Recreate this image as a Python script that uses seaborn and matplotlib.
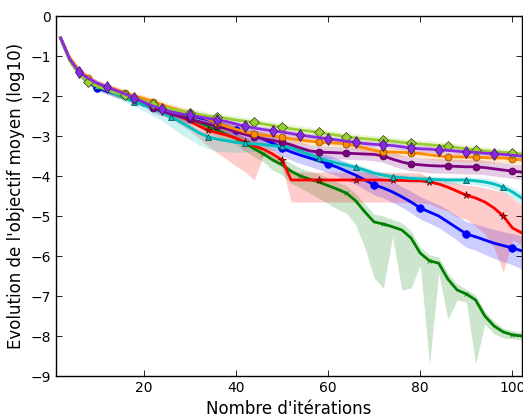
import numpy as np
import matplotlib
matplotlib.use("Agg")
import matplotlib.pyplot as plt
import seaborn as sns

# Iteration grid (every 2 iterations)
X = list(range(2, 103, 2))

# Mean objective (log10) per series
blue_m = [-0.55,-1.10,-1.43,-1.65,-1.80,-1.88,-1.94,-2.00,-2.07,-2.14,-2.22,-2.30,-2.37,-2.43,-2.48,-2.54,-2.60,-2.68,-2.76,-2.85,
          -2.92,-3.00,-3.08,-3.18,-3.30,-3.40,-3.48,-3.55,-3.62,-3.70,-3.78,-3.88,-3.98,-4.10,-4.22,-4.30,-4.40,-4.52,-4.65,-4.80,
          -4.90,-5.00,-5.15,-5.30,-5.45,-5.52,-5.60,-5.68,-5.74,-5.80,-5.87]
green_m = [-0.55,-1.10,-1.42,-1.62,-1.75,-1.84,-1.92,-2.00,-2.08,-2.16,-2.24,-2.32,-2.40,-2.48,-2.56,-2.66,-2.76,-2.86,-2.96,-3.06,
           -3.18,-3.32,-3.45,-3.60,-3.72,-3.88,-4.00,-4.08,-4.15,-4.24,-4.33,-4.43,-4.62,-4.90,-5.15,-5.20,-5.27,-5.35,-5.55,-5.93,
           -6.12,-6.18,-6.58,-6.85,-6.95,-7.10,-7.50,-7.75,-7.90,-7.97,-8.00]
red_m = [-0.55,-1.10,-1.42,-1.62,-1.75,-1.84,-1.92,-2.00,-2.08,-2.16,-2.25,-2.33,-2.42,-2.52,-2.62,-2.75,-2.86,-2.92,-2.98,-3.05,
         -3.15,-3.25,-3.33,-3.45,-3.60,-4.10,-4.10,-4.10,-4.10,-4.10,-4.10,-4.10,-4.10,-4.10,-4.10,-4.10,-4.11,-4.11,-4.12,-4.12,
         -4.15,-4.20,-4.28,-4.38,-4.48,-4.55,-4.65,-4.80,-5.00,-5.30,-5.42]
cyan_m = [-0.55,-1.10,-1.42,-1.64,-1.76,-1.85,-1.95,-2.05,-2.15,-2.22,-2.32,-2.42,-2.53,-2.65,-2.78,-2.92,-3.02,-3.08,-3.12,-3.16,
          -3.18,-3.20,-3.22,-3.24,-3.26,-3.30,-3.38,-3.47,-3.55,-3.62,-3.68,-3.73,-3.78,-3.85,-3.93,-3.98,-4.02,-4.04,-4.06,-4.07,
          -4.08,-4.09,-4.10,-4.10,-4.10,-4.12,-4.15,-4.20,-4.28,-4.40,-4.55]
purple_m = [-0.55,-1.10,-1.42,-1.62,-1.74,-1.82,-1.90,-1.98,-2.06,-2.14,-2.30,-2.38,-2.45,-2.52,-2.58,-2.64,-2.70,-2.76,-2.82,-2.90,
            -2.96,-3.02,-3.07,-3.11,-3.16,-3.22,-3.30,-3.37,-3.40,-3.41,-3.42,-3.43,-3.44,-3.45,-3.46,-3.50,-3.58,-3.65,-3.70,-3.72,
            -3.74,-3.75,-3.75,-3.76,-3.77,-3.77,-3.79,-3.82,-3.85,-3.88,-3.90]
orange_m = [-0.55,-1.05,-1.35,-1.55,-1.68,-1.76,-1.84,-1.92,-2.00,-2.06,-2.14,-2.22,-2.30,-2.37,-2.43,-2.50,-2.58,-2.68,-2.76,-2.83,
            -2.90,-2.95,-2.98,-3.00,-3.03,-3.07,-3.10,-3.13,-3.15,-3.17,-3.18,-3.20,-3.25,-3.30,-3.36,-3.40,-3.40,-3.41,-3.42,-3.44,
            -3.47,-3.50,-3.52,-3.52,-3.53,-3.53,-3.54,-3.55,-3.55,-3.57,-3.60]
yg_m = [-0.55,-1.12,-1.45,-1.65,-1.76,-1.84,-1.92,-1.98,-2.05,-2.12,-2.20,-2.27,-2.33,-2.38,-2.42,-2.46,-2.50,-2.53,-2.56,-2.60,
        -2.63,-2.66,-2.70,-2.74,-2.78,-2.82,-2.85,-2.88,-2.91,-2.95,-2.98,-3.02,-3.05,-3.07,-3.09,-3.11,-3.13,-3.16,-3.18,-3.20,
        -3.22,-3.24,-3.26,-3.29,-3.32,-3.35,-3.37,-3.39,-3.41,-3.43,-3.45]
bv_m = [-0.55,-1.08,-1.40,-1.56,-1.68,-1.78,-1.86,-1.95,-2.05,-2.15,-2.25,-2.33,-2.40,-2.45,-2.48,-2.52,-2.56,-2.60,-2.64,-2.70,
        -2.76,-2.80,-2.84,-2.87,-2.90,-2.94,-2.98,-3.01,-3.04,-3.07,-3.10,-3.13,-3.16,-3.19,-3.21,-3.22,-3.24,-3.27,-3.30,-3.32,
        -3.33,-3.35,-3.36,-3.38,-3.40,-3.41,-3.43,-3.44,-3.46,-3.48,-3.50]

# Band extents (distance below / above the mean)
blue_lo = [0.05,0.08,0.08,0.08,0.08,0.08,0.09,0.09,0.10,0.10,0.10,0.10,0.11,0.11,0.12,0.12,0.12,0.13,0.13,0.14,
           0.15,0.16,0.17,0.18,0.20,0.20,0.21,0.21,0.22,0.22,0.22,0.23,0.23,0.24,0.25,0.25,0.26,0.26,0.27,0.28,
           0.28,0.29,0.30,0.31,0.33,0.34,0.36,0.38,0.40,0.42,0.45]
blue_hi = [0.05,0.08,0.08,0.08,0.08,0.08,0.09,0.09,0.10,0.10,0.10,0.10,0.11,0.11,0.12,0.12,0.12,0.13,0.13,0.14,
           0.15,0.16,0.18,0.20,0.22,0.22,0.22,0.21,0.21,0.22,0.22,0.23,0.23,0.24,0.25,0.25,0.26,0.26,0.27,0.28,
           0.28,0.29,0.30,0.30,0.31,0.32,0.33,0.34,0.35,0.36,0.37]
green_lo = [0.05,0.08,0.08,0.08,0.08,0.08,0.08,0.10,0.10,0.10,0.10,0.10,0.10,0.12,0.12,0.12,0.15,0.15,0.15,0.15,
            0.20,0.20,0.20,0.25,0.25,0.30,0.30,0.35,0.40,0.45,0.50,0.50,0.60,0.90,1.40,1.60,0.25,1.50,1.25,0.30,
            2.60,0.25,1.00,0.25,0.20,1.60,0.20,0.20,0.15,0.10,0.10]
green_hi = [0.05,0.08,0.08,0.08,0.08,0.08,0.08,0.10,0.10,0.10,0.10,0.10,0.10,0.10,0.10,0.10,0.12,0.12,0.12,0.12,
            0.15,0.15,0.15,0.15,0.18,0.20,0.20,0.20,0.20,0.20,0.18,0.18,0.18,0.20,0.20,0.20,0.18,0.18,0.18,0.15,
            0.15,0.15,0.15,0.15,0.12,0.12,0.12,0.12,0.10,0.10,0.10]
red_lo = [0.05,0.08,0.08,0.08,0.08,0.08,0.10,0.10,0.10,0.10,0.12,0.12,0.15,0.20,0.25,0.30,0.40,0.50,0.60,0.70,
          0.75,0.85,0.15,0.15,0.15,0.55,0.55,0.55,0.55,0.55,0.55,0.55,0.55,0.55,0.55,0.55,0.55,0.55,0.55,0.55,
          0.55,0.60,0.60,0.65,0.60,0.70,0.80,1.00,1.40,0.30,0.30]
red_hi = [0.05,0.08,0.08,0.08,0.08,0.08,0.10,0.10,0.10,0.10,0.10,0.10,0.10,0.10,0.10,0.12,0.12,0.12,0.12,0.12,
          0.12,0.12,0.12,0.12,0.12,0.20,0.20,0.20,0.20,0.20,0.20,0.20,0.20,0.20,0.20,0.20,0.20,0.20,0.20,0.20,
          0.10,0.12,0.15,0.20,0.25,0.30,0.35,0.45,0.60,0.75,0.70]
cyan_lo = [0.05,0.08,0.08,0.08,0.08,0.08,0.10,0.10,0.12,0.15,0.18,0.20,0.25,0.30,0.30,0.30,0.30,0.30,0.28,0.25,
           0.22,0.18,0.15,0.12,0.10,0.10,0.10,0.10,0.10,0.10,0.10,0.10,0.10,0.10,0.10,0.10,0.10,0.10,0.10,0.10,
           0.10,0.10,0.10,0.10,0.10,0.10,0.11,0.12,0.13,0.14,0.15]
cyan_hi = [0.05,0.08,0.08,0.08,0.08,0.08,0.08,0.08,0.08,0.08,0.08,0.08,0.08,0.08,0.08,0.08,0.08,0.08,0.08,0.08,
           0.08,0.08,0.08,0.08,0.08,0.08,0.08,0.08,0.08,0.08,0.08,0.08,0.08,0.08,0.08,0.08,0.08,0.08,0.08,0.08,
           0.08,0.08,0.08,0.08,0.08,0.09,0.10,0.10,0.11,0.12,0.12]
purple_hw = [0.05,0.08,0.08,0.08,0.08,0.08,0.09,0.10,0.10,0.11,0.12,0.12,0.12,0.12,0.12,0.13,0.13,0.13,0.14,0.14,
             0.15,0.15,0.15,0.15,0.15,0.15,0.15,0.15,0.15,0.15,0.15,0.15,0.15,0.15,0.16,0.16,0.17,0.17,0.17,0.17,
             0.18,0.18,0.18,0.18,0.18,0.18,0.18,0.18,0.18,0.18,0.18]
orange_hw = [0.05,0.08,0.08,0.08,0.08,0.08,0.08,0.09,0.09,0.09,0.10,0.10,0.10,0.10,0.10,0.10,0.10,0.10,0.10,0.10,
             0.10,0.10,0.10,0.10,0.10,0.10,0.10,0.10,0.10,0.10,0.10,0.10,0.10,0.10,0.10,0.10,0.10,0.10,0.11,0.11,
             0.11,0.12,0.12,0.12,0.12,0.12,0.12,0.12,0.12,0.12,0.12]
yg_hw = [0.05,0.08,0.08,0.08,0.08,0.08,0.08,0.08,0.08,0.08,0.09,0.09,0.09,0.10,0.10,0.10,0.10,0.10,0.10,0.10,
         0.10,0.10,0.10,0.10,0.10,0.10,0.10,0.10,0.10,0.10,0.10,0.10,0.10,0.10,0.10,0.10,0.10,0.10,0.10,0.10,
         0.10,0.10,0.10,0.10,0.10,0.10,0.10,0.10,0.10,0.10,0.10]
bv_hw = [0.05,0.08,0.08,0.08,0.08,0.08,0.08,0.08,0.08,0.08,0.08,0.08,0.08,0.08,0.08,0.08,0.08,0.08,0.08,0.08,
         0.08,0.08,0.08,0.08,0.08,0.08,0.08,0.08,0.08,0.08,0.08,0.08,0.08,0.08,0.08,0.08,0.08,0.08,0.08,0.08,
         0.09,0.09,0.09,0.09,0.09,0.10,0.10,0.10,0.10,0.10,0.10]

# Marker iterations per series
mk_blue = [10, 20, 30, 40, 50, 60, 70, 80, 90, 100]
mk_green = [10, 18, 28, 36, 46, 54, 64, 72, 82, 90, 100]
mk_red = [10, 18, 26, 34, 42, 50, 58, 66, 74, 82, 90, 98]
mk_cyan = [10, 18, 26, 34, 42, 50, 58, 66, 74, 82, 90, 98]
mk_7 = [8, 16, 22, 30, 36, 44, 50, 58, 64, 72, 78, 86, 92, 100]
mk_bv = [6, 12, 18, 24, 30, 36, 42, 48, 54, 60, 66, 72, 78, 84, 90, 96]

XLABEL = "Nombre d'itérations"
YLABEL = "Evolution de l'objectif moyen (log10)"

plt.rcParams.update({
    "font.family": ["DejaVu Sans"],
    "xtick.direction": "in", "ytick.direction": "in",
    "xtick.top": True, "ytick.right": True,
    "xtick.major.size": 4, "ytick.major.size": 4,
    "xtick.major.width": 0.6, "ytick.major.width": 0.6,
    "axes.linewidth": 1.0,
    "xtick.labelsize": 10, "ytick.labelsize": 10,
})

fig = plt.figure(figsize=(5.23, 4.17), dpi=100, facecolor="white")
ax = fig.add_axes([56/523, 41/417, 465.7/523, 360/417])
ax.set_facecolor("white")

Xa = np.array(X, dtype=float)

def draw(mean, lo, hi, color, marker, mk, ms, mec):
    m = np.array(mean)
    ax.fill_between(Xa, m - np.array(lo), m + np.array(hi), color=color, alpha=0.2, lw=0)
    idx = [X.index(v) for v in mk]
    sns.lineplot(x=Xa, y=m, color=color, lw=2, marker=marker, markevery=idx,
                 markersize=ms, markeredgecolor=mec, markeredgewidth=0.5,
                 estimator=None, errorbar=None, sort=False, ax=ax)

draw(blue_m, blue_lo, blue_hi, "blue", "o", mk_blue, 5.5, "blue")
draw(green_m, green_lo, green_hi, "green", "x", mk_green, 3.5, "green")
draw(red_m, red_lo, red_hi, "red", "*", mk_red, 5.5, "#600000")
draw(cyan_m, cyan_lo, cyan_hi, "#00BFBF", "^", mk_cyan, 5, "#004040")
draw(purple_m, purple_hw, purple_hw, "purple", "o", mk_7, 5, "#400040")
draw(orange_m, orange_hw, orange_hw, "darkorange", "o", mk_7, 5, "#804000")
draw(yg_m, yg_hw, yg_hw, "yellowgreen", "D", mk_7, 5, "#304010")
draw(bv_m, bv_hw, bv_hw, "blueviolet", "d", mk_bv, 6.5, "#301050")

ax.set_xlim(1, 102)
ax.set_ylim(-9, 0)
ax.set_xticks([20, 40, 60, 80, 100])
ax.set_yticks([0, -1, -2, -3, -4, -5, -6, -7, -8, -9])
ax.set_xlabel(XLABEL, fontsize=12)
ax.set_ylabel(YLABEL, fontsize=12)
for s in ax.spines.values():
    s.set_color("black")

fig.savefig("out.png", dpi=100, facecolor="white")
